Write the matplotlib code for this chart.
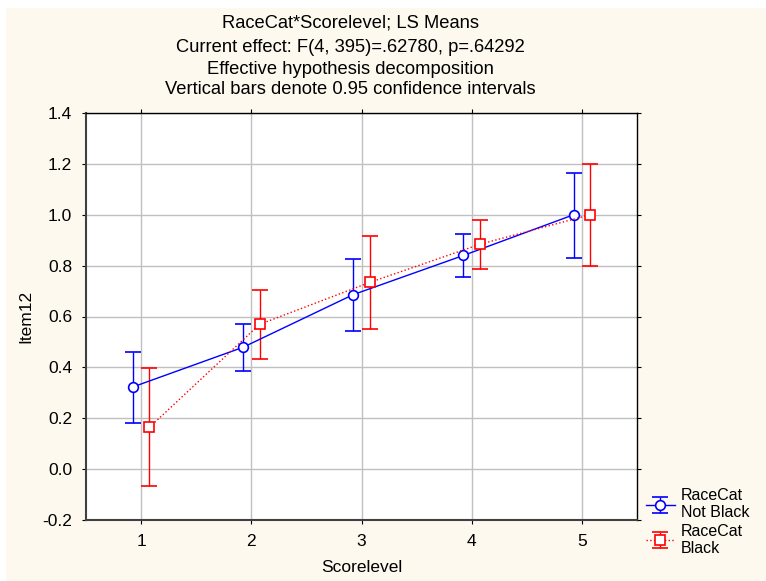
import numpy as np
import matplotlib.pyplot as plt
from matplotlib.patches import Rectangle

plt.rcParams['font.family'] = ['Liberation Sans', 'DejaVu Sans']

# --- Datos (LS means e intervalos de confianza 0.95) ---
scorelevel = [1, 2, 3, 4, 5]
nb_mean = [0.323, 0.479, 0.686, 0.840, 1.000]
nb_low = [0.182, 0.386, 0.543, 0.755, 0.830]
nb_high = [0.459, 0.570, 0.827, 0.925, 1.165]
b_mean = [0.164, 0.569, 0.734, 0.884, 1.000]
b_low = [-0.068, 0.433, 0.551, 0.788, 0.797]
b_high = [0.396, 0.705, 0.918, 0.980, 1.198]

title_lines = ["RaceCat*Scorelevel; LS Means",
               "Current effect: F(4, 395)=.62780, p=.64292",
               "Effective hypothesis decomposition",
               "Vertical bars denote 0.95 confidence intervals"]

cream = '#fdf9ee'
fig = plt.figure(figsize=(7.66, 5.81), dpi=100, facecolor='white')
fig.patches.append(Rectangle((6/766, 0), 1, 1 - 8/581, transform=fig.transFigure,
                             facecolor=cream, edgecolor='none', zorder=-10))

ax = fig.add_axes([86/766, 1 - 520/581, (637 - 86)/766, (520 - 113)/581])
ax.set_facecolor('white')

x = np.array(scorelevel, dtype=float)
off = 0.075

nb_err = [np.array(nb_mean) - np.array(nb_low), np.array(nb_high) - np.array(nb_mean)]
b_err = [np.array(b_mean) - np.array(b_low), np.array(b_high) - np.array(b_mean)]

h1 = ax.errorbar(x - off, nb_mean, yerr=nb_err, color='#0000ff', lw=1.0,
                 marker='o', ms=7, mfc='white', mec='#0000ff', mew=1.2,
                 capsize=6, elinewidth=1.0, capthick=1.0, zorder=4,
                 label='RaceCat\nNot Black')
h2 = ax.errorbar(x + off, b_mean, yerr=b_err, color='#ff0000', lw=1.0, ls=':',
                 marker='s', ms=7, mfc='white', mec='#ff0000', mew=1.2,
                 capsize=6, elinewidth=1.0, capthick=1.0, zorder=4,
                 label='RaceCat\nBlack')
for bar in h2[2]:
    bar.set_linestyle('-')

ax.set_xlim(0.5, 5.5)
ax.set_ylim(-0.2, 1.4)
ax.set_xticks(scorelevel)
ax.set_yticks(np.arange(-0.2, 1.41, 0.2))
ax.set_yticklabels([f"{v:.1f}" for v in np.arange(-0.2, 1.41, 0.2)])
ax.grid(True, color='#c0c0c0', lw=1.0)
ax.set_axisbelow(True)
ax.tick_params(labelsize=12.5, length=3, direction='out', top=True, right=True,
               pad=7)

for s in ['left', 'bottom']:
    ax.spines[s].set_color('#404040')
    ax.spines[s].set_linewidth(1.5)
for s in ['top', 'right']:
    ax.spines[s].set_color('black')
    ax.spines[s].set_linewidth(1.0)

ax.set_xlabel("Scorelevel", fontsize=12.5, va='center')
ax.set_ylabel("Item12", fontsize=12.5, va='center')
ax.xaxis.set_label_coords(0.5, -(567 - 520)/407)
ax.yaxis.set_label_coords(-(86 - 26)/551, 0.5)

ys = [23, 47, 69, 89]
for t, yy in zip(title_lines, ys):
    fig.text(350/766, 1 - yy/581, t, ha='center', va='center', fontsize=13.2)

fig.legend(handles=[h1, h2], loc='upper left', bbox_to_anchor=(638/766, 1 - 480/581),
           frameon=False, fontsize=11.5, handlelength=1.8, handletextpad=0.4,
           labelspacing=0.2, borderpad=0)

fig.savefig('out.png', dpi=100, facecolor=fig.get_facecolor())
